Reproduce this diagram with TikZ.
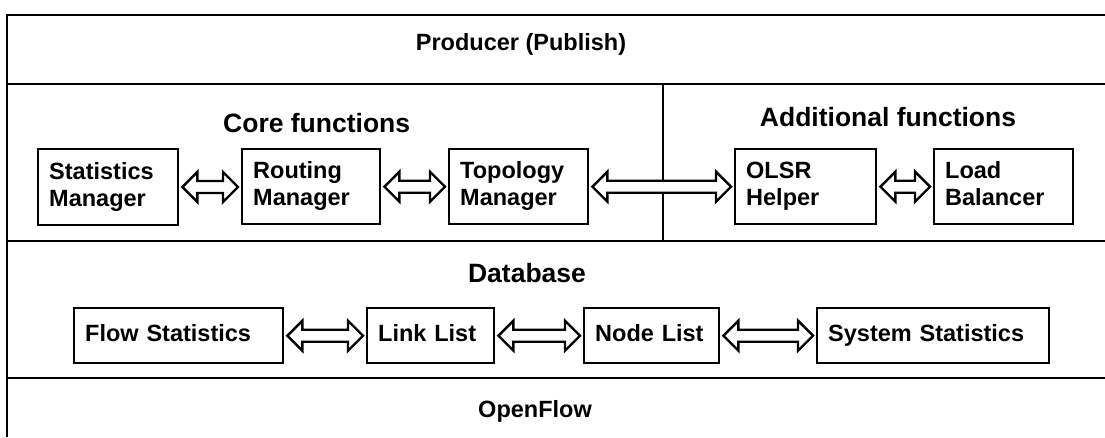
\documentclass[tikz,border=0pt]{standalone}
\usepackage{fontspec}
\setmainfont{Liberation Sans}
\usetikzlibrary{calc}
\tikzset{
  frameline/.style={line width=2.6pt, black},
  boxnode/.style={draw, line width=2.4pt, rectangle, anchor=north west, inner xsep=11pt, inner ysep=0pt, align=left, font=\bfseries\fontsize{23.5}{27}\selectfont},
  headtext/.style={anchor=base, inner sep=0pt, font=\bfseries\fontsize{26.5}{30}\selectfont},
  bodytext/.style={anchor=base, inner sep=0pt, font=\bfseries\fontsize{23.5}{27}\selectfont},
  arrowline/.style={draw, fill=white, line width=2.4pt, line join=miter},
}
\newcommand\mkbox[6]{% name, x1, y1, x2, y2, text
  \node[boxnode, minimum width={#4-#2}, minimum height={#5-#3}, text width={#4-#2-22}] (#1) at (#2,#3) {#6};}
\newcommand\blockarrow[2]{%
  \path[arrowline] let \p1=(#1.east), \p2=(#2.west), \p3=($(#1.east)!0.5!(#2.west)$) in
    (\x1+3pt,\y3) -- (\x1+18pt,\y3+15pt) -- (\x1+18pt,\y3+6pt) -- (\x2-18pt,\y3+6pt) -- (\x2-18pt,\y3+15pt)
    -- (\x2-3pt,\y3) -- (\x2-18pt,\y3-15pt) -- (\x2-18pt,\y3-6pt) -- (\x1+18pt,\y3-6pt) -- (\x1+18pt,\y3-15pt) -- cycle;}
\begin{document}
\begin{tikzpicture}[x=1pt, y=-1pt]
\useasboundingbox (0,0) rectangle (1105,437);
% frame
\coordinate (tl) at (7,15);
\coordinate (tr) at (1105,15);
\coordinate (l1) at (7,84);   \coordinate (r1) at (1105,84);
\coordinate (l2) at (7,241);  \coordinate (r2) at (1105,241);
\coordinate (l3) at (7,378);  \coordinate (r3) at (1105,378);
\coordinate (bl) at (7,437);
\coordinate (dtop) at (663,84); \coordinate (dbot) at (663,241);
\draw[frameline] (bl) -- (tl) -- (tr);
\draw[frameline] (l1) -- (r1);
\draw[frameline] (l2) -- (r2);
\draw[frameline] (l3) -- (r3);
\draw[frameline, line width=2pt] (dtop) -- (dbot);
% texts
\node[bodytext] (producer) at (521,50) {Producer (Publish)};
\node[headtext, anchor=base west] (core) at (223,132) {Core functions};
\node[headtext] (additional) at (888,126) {Additional functions};
\node[headtext] (database) at (527,282) {Database};
\node[bodytext] (openflow) at (535,417) {OpenFlow};
% boxes
\mkbox{stat}{37}{148}{177}{224}{Statistics\strut\\Manager\strut}
\mkbox{rout}{241}{148}{379}{223}{Routing\strut\\Manager\strut}
\mkbox{topo}{448}{148}{587}{223}{Topology\strut\\Manager\strut}
\mkbox{olsr}{734}{148}{875}{223}{OLSR\strut\\Helper\strut}
\mkbox{load}{933}{148}{1072}{223}{Load\strut\\Balancer\strut}
\mkbox{flow}{73}{307}{282}{362}{Flow Statistics\strut}
\mkbox{link}{366}{307}{493}{362}{Link List\strut}
\mkbox{nodel}{583}{307}{718}{362}{Node List\strut}
\mkbox{sys}{816}{307}{1048}{362}{System Statistics\strut}
% arrows
\blockarrow{stat}{rout}
\blockarrow{rout}{topo}
\blockarrow{topo}{olsr}
\blockarrow{olsr}{load}
\blockarrow{flow}{link}
\blockarrow{link}{nodel}
\blockarrow{nodel}{sys}
\end{tikzpicture}
\end{document}
